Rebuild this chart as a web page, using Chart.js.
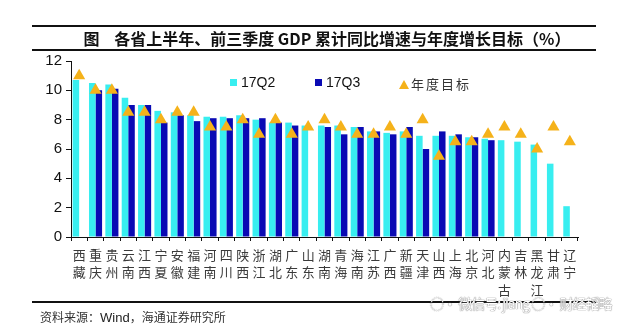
<!DOCTYPE html>
<html>
<head>
<meta charset="utf-8">
<script src="https://cdn.jsdelivr.net/npm/chart.js@4.4.1/dist/chart.umd.min.js"></script>
<style>
  html, body { margin: 0; padding: 0; background: #fff; }
  #wrap { position: relative; width: 640px; height: 332px; overflow: hidden; }
  #chart { position: absolute; left: 0; top: 0; }
  .rule { position: absolute; background: #111; }
  #title { position: absolute; left: 0; width: 654px; top: 26px; text-align: center;
    font: bold 16px "Noto Sans CJK SC", sans-serif; color: #111; white-space: pre; }
  #source { position: absolute; left: 40px; top: 308px; font: 12px "Noto Sans CJK SC", sans-serif; color: #333; }
  #source b { font: 13px "Liberation Sans", Arial, sans-serif; color: #222; }
  #mark { position: absolute; left: 430px; top: 293px; font: 14px "Noto Sans CJK SC", sans-serif; white-space: nowrap;
    color: #fff; text-shadow: 0 0 1px #777, 0 0 1px #777; letter-spacing: -1px; }
  .lg { position: absolute; top: 74px; font: 14px "Liberation Sans", Arial, sans-serif; color: #111; }
  .sw { display: inline-block; width: 7px; height: 7px; margin-right: 4px; vertical-align: 1px; }
  .tri { display: inline-block; width: 0; height: 0; border-left: 5px solid transparent;
    border-right: 5px solid transparent; border-bottom: 9px solid #f5b21a; margin-right: 2px; vertical-align: 0; }
  .cn { font: 13px "Noto Sans CJK SC", sans-serif; letter-spacing: 2px; color: #333; }
</style>
</head>
<body>
<div id="wrap">
  <canvas id="chart" width="640" height="332"></canvas>
  <div class="rule" style="left:32px; top:25px; width:564px; height:2px;"></div>
  <div class="rule" style="left:32px; top:49px; width:564px; height:1.5px;"></div>
  <div id="title">图    各省上半年、前三季度 GDP 累计同比增速与年度增长目标（%）</div>
  <div class="lg" style="left:230px;"><span class="sw" style="background:#38eef0"></span>17Q2</div>
  <div class="lg" style="left:315px;"><span class="sw" style="background:#0a0ab4"></span>17Q3</div>
  <div class="lg" style="left:399px;"><span class="tri"></span><span class="cn">年度目标</span></div>
  <div class="rule" style="left:32px; top:301px; width:564px; height:1.5px;"></div>
  <div id="source">资料来源：<b>Wind</b>，海通证券研究所</div>
  <div id="mark">◌· 微信号: jiang ◌· 财经韬略</div>
</div>
<script>
// provinces, sorted by 17Q2 growth
const provinces = ['西藏', '重庆', '贵州', '云南', '江西', '宁夏', '安徽', '福建', '河南', '四川', '陕西',
  '浙江', '湖北', '广东', '山东', '湖南', '青海', '海南', '江苏', '广西', '新疆', '天津', '山西', '上海',
  '北京', '河北', '内蒙古', '吉林', '黑龙江', '甘肃', '辽宁'];

// cumulative yoy GDP growth (%)
const q2Values = [10.7, 10.5, 10.4, 9.5, 9.0, 8.6, 8.5, 8.3, 8.2, 8.2, 8.3,
  8.0, 7.8, 7.8, 7.6, 7.6, 7.6, 7.5, 7.2, 7.1, 7.2, 6.9, 6.9, 6.9,
  6.8, 6.7, 6.6, 6.5, 6.3, 5.0, 2.1];
const q3Values = [null, 10.0, 10.1, 9.0, 9.0, 7.8, 8.3, 7.9, 8.1, 8.1, 8.1,
  8.1, 7.8, 7.6, null, 7.5, 7.0, 7.5, 7.2, 7.0, 7.5, 6.0, 7.2, 7.0,
  6.8, 6.6, null, null, null, null, null];
// annual growth targets (%)
const targets = [11, 10, 10, 8.5, 8.5, 8, 8.5, 8.5, 7.5, 7.5, 8,
  7, 8, 7, 7.5, 8, 7.5, 7, 7, 7.5, 7, 8, 5.5, 6.5,
  6.5, 7, 7.5, 7, 6, 7.5, 6.5];

const yTicks = [0, 2, 4, 6, 8, 10, 12];

// one character per line, like the vertical labels of the original
const labels = provinces.map(p => p.split(''));

new Chart(document.getElementById('chart'), {
  type: 'bar',
  data: {
    labels: labels,
    datasets: [
      {
        type: 'line',
        label: '年度目标',
        data: targets,
        showLine: false,
        pointStyle: 'triangle',
        pointRadius: 7,
        pointBackgroundColor: '#f5b21a',
        pointBorderColor: '#f5b21a',
        pointBorderWidth: 0,
        order: 0
      },
      {
        label: '17Q2',
        data: q2Values,
        backgroundColor: '#38eef0',
        categoryPercentage: 0.8,
        barPercentage: 1.0,
        order: 1
      },
      {
        label: '17Q3',
        data: q3Values,
        backgroundColor: '#0a0ab4',
        categoryPercentage: 0.8,
        barPercentage: 1.0,
        order: 1
      }
    ]
  },
  options: {
    responsive: false,
    animation: false,
    layout: { padding: { left: 0, top: 61, right: 62, bottom: 0 } },
    plugins: { legend: { display: false }, tooltip: { enabled: false } },
    scales: {
      x: {
        afterFit: (s) => { s.height = 95; },
        border: { display: true, color: '#111', width: 1 },
        grid: { display: true, offset: true, drawOnChartArea: false, drawTicks: true, tickLength: 4, color: '#111' },
        ticks: {
          autoSkip: false, maxRotation: 0, padding: 5, color: '#3a3a3a',
          font: { family: '"Noto Sans CJK SC", sans-serif', size: 13, lineHeight: 1.35 }
        }
      },
      y: {
        min: 0,
        max: 12,
        afterFit: (s) => { s.width = 71; },
        afterBuildTicks: (s) => { s.ticks = yTicks.map(v => ({ value: v })); },
        border: { display: true, color: '#111', width: 1 },
        grid: { display: true, drawOnChartArea: false, drawTicks: true, tickLength: 5, color: '#111' },
        ticks: {
          padding: 4, color: '#111',
          font: { family: '"Liberation Sans", Arial, sans-serif', size: 15 }
        }
      }
    }
  }
});
</script>
</body>
</html>
